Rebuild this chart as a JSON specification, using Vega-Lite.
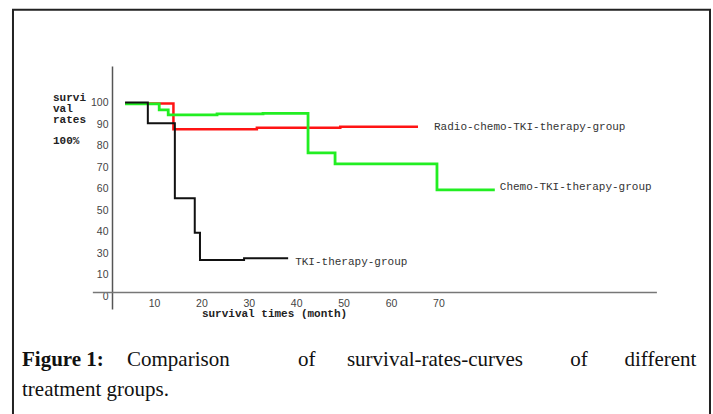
{
  "$schema": "https://vega.github.io/schema/vega-lite/v6.json",
  "width": 545,
  "height": 243,
  "autosize": {"type": "none"},
  "padding": {"left": 112, "top": 66, "right": 56, "bottom": 105},
  "background": "white",
  "config": {"view": {"stroke": null}},
  "title": {
    "text": "Figure 1:",
    "subtitle": ["\u200b\u00a0\u00a0\u00a0\u00a0\u00a0\u00a0\u00a0\u00a0\u00a0\u00a0\u00a0\u00a0\u00a0\u00a0\u00a0\u00a0\u00a0\u00a0\u00a0\u00a0Comparison\u00a0\u00a0\u00a0\u00a0\u00a0\u00a0\u00a0\u00a0\u00a0\u00a0\u00a0\u00a0\u00a0of\u00a0\u00a0\u00a0\u00a0\u00a0\u00a0survival-rates-curves\u00a0\u00a0\u00a0\u00a0\u00a0\u00a0\u00a0\u00a0\u00a0of\u00a0\u00a0\u00a0\u00a0\u00a0\u00a0\u00a0different", "treatment groups."],
    "orient": "bottom",
    "anchor": "start",
    "frame": "bounds",
    "offset": -72,
    "dx": 10,
    "font": "Liberation Serif",
    "fontSize": 21,
    "fontWeight": "bold",
    "color": "#111111",
    "subtitleFont": "Liberation Serif",
    "subtitleFontSize": 21,
    "subtitleFontWeight": "normal",
    "subtitleColor": "#111111",
    "subtitlePadding": -21,
    "subtitleLineHeight": 30
  },
  "datasets": {
    "curves": [
      {"group": "Radio-chemo-TKI-therapy-group", "month": 3.9, "rate": 99.6},
      {"group": "Radio-chemo-TKI-therapy-group", "month": 14.1, "rate": 87.6},
      {"group": "Radio-chemo-TKI-therapy-group", "month": 31.7, "rate": 88.3},
      {"group": "Radio-chemo-TKI-therapy-group", "month": 49.3, "rate": 88.8},
      {"group": "Radio-chemo-TKI-therapy-group", "month": 65.7, "rate": 88.8},
      {"group": "Chemo-TKI-therapy-group", "month": 3.9, "rate": 99.4},
      {"group": "Chemo-TKI-therapy-group", "month": 11.1, "rate": 96.6},
      {"group": "Chemo-TKI-therapy-group", "month": 13.0, "rate": 94.3},
      {"group": "Chemo-TKI-therapy-group", "month": 23.3, "rate": 94.7},
      {"group": "Chemo-TKI-therapy-group", "month": 33.0, "rate": 95.0},
      {"group": "Chemo-TKI-therapy-group", "month": 42.5, "rate": 76.6},
      {"group": "Chemo-TKI-therapy-group", "month": 48.2, "rate": 71.5},
      {"group": "Chemo-TKI-therapy-group", "month": 69.7, "rate": 59.4},
      {"group": "Chemo-TKI-therapy-group", "month": 81.9, "rate": 59.4},
      {"group": "TKI-therapy-group", "month": 3.9, "rate": 100},
      {"group": "TKI-therapy-group", "month": 8.7, "rate": 90.4},
      {"group": "TKI-therapy-group", "month": 14.4, "rate": 55.5},
      {"group": "TKI-therapy-group", "month": 18.6, "rate": 39.5},
      {"group": "TKI-therapy-group", "month": 19.7, "rate": 26.8},
      {"group": "TKI-therapy-group", "month": 29.0, "rate": 27.6},
      {"group": "TKI-therapy-group", "month": 38.3, "rate": 27.6}
    ],
    "labels": [
      {"group": "Radio-chemo-TKI-therapy-group", "month": 65.7, "rate": 88.8},
      {"group": "Chemo-TKI-therapy-group", "month": 81.9, "rate": 59.4},
      {"group": "TKI-therapy-group", "month": 38.3, "rate": 27.6}
    ]
  },
  "layer": [
    {
      "data": {"name": "curves"},
      "transform": [{"filter": "datum.group == 'Radio-chemo-TKI-therapy-group'"}],
      "mark": {"type": "line", "interpolate": "step-after", "strokeWidth": 2.5, "color": "#ff1414"},
      "encoding": {
        "x": {
          "field": "month", "type": "quantitative",
          "scale": {"domain": [1.14, 116.12], "nice": false, "zero": false},
          "axis": {
            "values": [10, 20, 30, 40, 50, 60, 70], "tickCount": 20,
            "domain": false, "ticks": false, "tickSize": 0, "grid": false,
            "offset": -13, "labelPadding": 2, "labelOverlap": false,
            "labelFont": "Liberation Sans", "labelFontSize": 10.5, "labelColor": "#444444",
            "title": "survival times (month)",
            "titleFont": "Liberation Mono", "titleFontSize": 11, "titleFontWeight": "bold", "titleColor": "#222222",
            "titleX": 162, "titleY": 17.4, "titleAlign": "center", "titleBaseline": "middle", "titleAnchor": null
          }
        },
        "y": {
          "field": "rate", "type": "quantitative",
          "scale": {"domain": [4, 117], "nice": false, "zero": false},
          "axis": {
            "values": [100, 90, 80, 70, 60, 50, 40, 30, 20, 10], "tickCount": 20,
            "labelExpr": "datum.value == 20 ? '10' : datum.value == 10 ? '0' : datum.label",
            "labelOverlap": false,
            "domain": true, "domainColor": "#555555", "domainWidth": 1.5,
            "ticks": false, "tickSize": 0, "grid": false, "labelPadding": 4,
            "labelFont": "Liberation Sans", "labelFontSize": 10.5, "labelColor": "#444444",
            "title": ["survi", "val", "rates", "\u200b", "100%"],
            "titleAngle": 0, "titleAlign": "left", "titleBaseline": "top",
            "titleX": -59.5, "titleY": 25.6, "titleLineHeight": 10.8,
            "titleFont": "Liberation Mono", "titleFontSize": 11, "titleFontWeight": "bold", "titleColor": "#222222"
          }
        }
      }
    },
    {
      "data": {"name": "curves"},
      "transform": [{"filter": "datum.group == 'Chemo-TKI-therapy-group'"}],
      "mark": {"type": "line", "interpolate": "step-after", "strokeWidth": 2.8, "color": "#22ee22"},
      "encoding": {
        "x": {"field": "month", "type": "quantitative", "scale": {"domain": [1.14, 116.12], "nice": false, "zero": false}},
        "y": {"field": "rate", "type": "quantitative", "scale": {"domain": [4, 117], "nice": false, "zero": false}}
      }
    },
    {
      "data": {"name": "curves"},
      "transform": [{"filter": "datum.group == 'TKI-therapy-group'"}],
      "mark": {"type": "line", "interpolate": "step-after", "strokeWidth": 2, "color": "#111111"},
      "encoding": {
        "x": {"field": "month", "type": "quantitative", "scale": {"domain": [1.14, 116.12], "nice": false, "zero": false}},
        "y": {"field": "rate", "type": "quantitative", "scale": {"domain": [4, 117], "nice": false, "zero": false}}
      }
    },
    {
      "data": {"values": [{}]},
      "mark": {"type": "rule", "color": "#777777", "strokeWidth": 1.5, "clip": false},
      "encoding": {
        "x": {"datum": -2.9, "type": "quantitative", "scale": {"domain": [1.14, 116.12], "nice": false, "zero": false}},
        "x2": {"datum": 116.1},
        "y": {"datum": 11.7, "type": "quantitative", "scale": {"domain": [4, 117], "nice": false, "zero": false}}
      }
    },
    {
      "data": {"values": [{}]},
      "mark": {"type": "rect", "fillOpacity": 0, "stroke": "#222222", "strokeWidth": 2, "clip": false},
      "encoding": {
        "x": {"datum": -19.75, "type": "quantitative", "scale": {"domain": [1.14, 116.12], "nice": false, "zero": false}},
        "x2": {"datum": 127.3},
        "y": {"datum": 143.2, "type": "quantitative", "scale": {"domain": [4, 117], "nice": false, "zero": false}},
        "y2": {"datum": -47.7}
      }
    },
    {
      "data": {"name": "labels"},
      "transform": [{"filter": "datum.group == 'Radio-chemo-TKI-therapy-group'"}],
      "mark": {"type": "text", "align": "left", "baseline": "middle", "dx": 16, "dy": 0, "font": "Liberation Mono", "fontSize": 11, "color": "#333333"},
      "encoding": {
        "x": {"field": "month", "type": "quantitative", "scale": {"domain": [1.14, 116.12], "nice": false, "zero": false}},
        "y": {"field": "rate", "type": "quantitative", "scale": {"domain": [4, 117], "nice": false, "zero": false}},
        "text": {"field": "group"}
      }
    },
    {
      "data": {"name": "labels"},
      "transform": [{"filter": "datum.group == 'Chemo-TKI-therapy-group'"}],
      "mark": {"type": "text", "align": "left", "baseline": "middle", "dx": 5, "dy": -3, "font": "Liberation Mono", "fontSize": 11, "color": "#333333"},
      "encoding": {
        "x": {"field": "month", "type": "quantitative", "scale": {"domain": [1.14, 116.12], "nice": false, "zero": false}},
        "y": {"field": "rate", "type": "quantitative", "scale": {"domain": [4, 117], "nice": false, "zero": false}},
        "text": {"field": "group"}
      }
    },
    {
      "data": {"name": "labels"},
      "transform": [{"filter": "datum.group == 'TKI-therapy-group'"}],
      "mark": {"type": "text", "align": "left", "baseline": "middle", "dx": 7, "dy": 4, "font": "Liberation Mono", "fontSize": 11, "color": "#333333"},
      "encoding": {
        "x": {"field": "month", "type": "quantitative", "scale": {"domain": [1.14, 116.12], "nice": false, "zero": false}},
        "y": {"field": "rate", "type": "quantitative", "scale": {"domain": [4, 117], "nice": false, "zero": false}},
        "text": {"field": "group"}
      }
    }
  ]
}
